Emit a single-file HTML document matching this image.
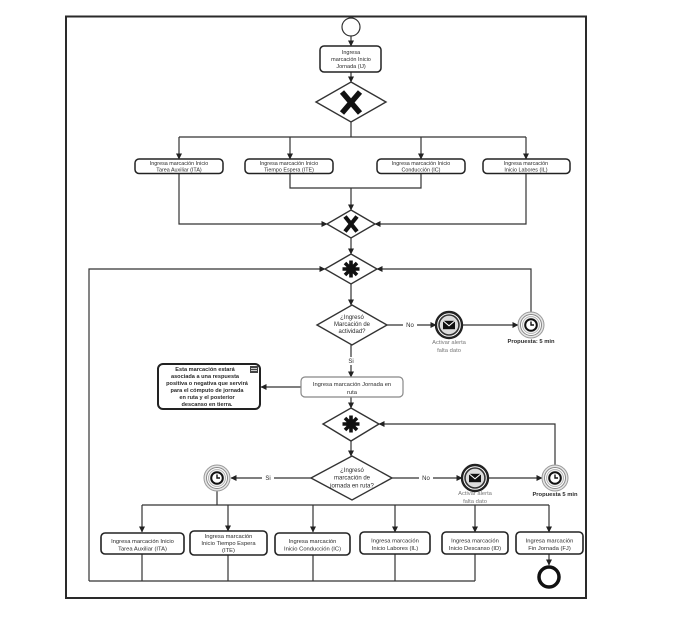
<!DOCTYPE html>
<html><head><meta charset="utf-8"><style>
html,body{margin:0;padding:0;background:#fff;}
svg{display:block;}
text{font-family:"Liberation Sans",sans-serif;fill:#2a2a2a;}
</style></head><body>
<svg width="698" height="617" viewBox="0 0 698 617" xmlns="http://www.w3.org/2000/svg">
<defs>
<marker id="a" markerWidth="6" markerHeight="6" refX="5.5" refY="3" orient="auto" markerUnits="userSpaceOnUse"><path d="M0,0 L6,3 L0,6 z" fill="#222"/></marker>
<g id="timer">
  <circle r="13" fill="#e6e6e6" stroke="#999" stroke-width="1"/>
  <circle r="10.5" fill="#fff" stroke="#888" stroke-width="1"/>
  <circle r="8.5" fill="#eee" stroke="#aaa" stroke-width="0.8"/>
  <circle r="5.8" fill="#fff" stroke="#111" stroke-width="2"/>
  <path d="M0,-3.5 L0,0 L3,0" fill="none" stroke="#111" stroke-width="1.4"/>
</g>
<g id="msg">
  <circle r="13" fill="#fff" stroke="#222" stroke-width="2.4"/>
  <circle r="10" fill="#ddd" stroke="#333" stroke-width="1.6"/>
  <rect x="-6" y="-4.2" width="12" height="8.4" fill="#111"/>
  <path d="M-6,-4.2 L0,0.8 L6,-4.2" fill="none" stroke="#fff" stroke-width="1"/>
</g>
<g id="star">
  <g stroke="#111" stroke-width="3.6" stroke-linecap="butt">
    <line x1="-8.5" y1="0" x2="8.5" y2="0"/>
    <line x1="0" y1="-8.5" x2="0" y2="8.5"/>
    <line x1="-6" y1="-6" x2="6" y2="6"/>
    <line x1="-6" y1="6" x2="6" y2="-6"/>
  </g>
  <circle r="5" fill="#111"/>
</g>
</defs>

<!-- frame -->
<rect x="66" y="16.5" width="520" height="581.5" fill="none" stroke="#2a2a2a" stroke-width="2"/>

<g fill="none" stroke="#333" stroke-width="1.2">
  <!-- start -->
  <line x1="351" y1="36" x2="351" y2="46" marker-end="url(#a)"/>
  <line x1="351" y1="72" x2="351" y2="82" marker-end="url(#a)"/>
  <polyline points="351,122 351,137"/>
  <polyline points="179,137 526,137"/>
  <line x1="179" y1="137" x2="179" y2="159" marker-end="url(#a)"/>
  <line x1="290" y1="137" x2="290" y2="159" marker-end="url(#a)"/>
  <line x1="421" y1="137" x2="421" y2="159" marker-end="url(#a)"/>
  <line x1="526" y1="137" x2="526" y2="159" marker-end="url(#a)"/>
  <!-- merge -->
  <polyline points="179,173 179,224 327,224" marker-end="url(#a)"/>
  <polyline points="526,173 526,224 375,224" marker-end="url(#a)"/>
  <polyline points="290,173 290,188 421,188 421,173"/>
  <line x1="351" y1="188" x2="351" y2="210" marker-end="url(#a)"/>
  <line x1="351" y1="237" x2="351" y2="254" marker-end="url(#a)"/>
  <!-- loops -->
  <polyline points="89,581 89,269 325,269" marker-end="url(#a)"/>
  <polyline points="531,312 531,269 377,269" marker-end="url(#a)"/>
  <line x1="351" y1="284" x2="351" y2="305" marker-end="url(#a)"/>
  <!-- decision 1 -->
  <line x1="387" y1="325" x2="436" y2="325" marker-end="url(#a)"/>
  <line x1="462" y1="325" x2="518" y2="325" marker-end="url(#a)"/>
  <line x1="351" y1="345" x2="351" y2="377" marker-end="url(#a)"/>
  <line x1="301" y1="387" x2="261" y2="387" marker-end="url(#a)"/>
  <line x1="351" y1="397" x2="351" y2="408" marker-end="url(#a)"/>
  <polyline points="555,465 555,424 379,424" marker-end="url(#a)"/>
  <line x1="351" y1="441" x2="351" y2="456" marker-end="url(#a)"/>
  <!-- decision 2 -->
  <line x1="311" y1="478" x2="231" y2="478" marker-end="url(#a)"/>
  <line x1="392" y1="478" x2="462" y2="478" marker-end="url(#a)"/>
  <line x1="488" y1="478" x2="542" y2="478" marker-end="url(#a)"/>
  <polyline points="217,491 217,505"/>
  <polyline points="142,505 549,505"/>
  <line x1="142" y1="505" x2="142" y2="532" marker-end="url(#a)"/>
  <line x1="228" y1="505" x2="228" y2="531" marker-end="url(#a)"/>
  <line x1="313" y1="505" x2="313" y2="532" marker-end="url(#a)"/>
  <line x1="395" y1="505" x2="395" y2="532" marker-end="url(#a)"/>
  <line x1="475" y1="505" x2="475" y2="532" marker-end="url(#a)"/>
  <line x1="549" y1="505" x2="549" y2="532" marker-end="url(#a)"/>
  <!-- bottom returns -->
  <polyline points="142,554 142,581"/>
  <polyline points="228,555 228,581"/>
  <polyline points="313,555 313,581"/>
  <polyline points="395,554 395,581"/>
  <polyline points="475,554 475,581"/>
  <polyline points="89,581 475,581"/>
  <line x1="549" y1="554" x2="549" y2="565" marker-end="url(#a)"/>
</g>

<!-- start event -->
<circle cx="351" cy="27" r="9" fill="#fff" stroke="#333" stroke-width="1.2"/>

<!-- IJ box -->
<rect x="320" y="46" width="61" height="26" rx="4" fill="#fff" stroke="#222" stroke-width="1.5"/>
<g font-size="5.5" text-anchor="middle">
<text x="351" y="54">Ingresa</text>
<text x="351" y="61">marcación Inicio</text>
<text x="351" y="68">Jornada (IJ)</text>
</g>

<!-- gateway X1 -->
<polygon points="351,82 386,102 351,122 316,102" fill="#fff" stroke="#333" stroke-width="1.4"/>
<g stroke="#111" stroke-width="5.5"><line x1="342" y1="92" x2="360" y2="113"/><line x1="360" y1="92" x2="342" y2="113"/></g>

<!-- top boxes -->
<g fill="#fff" stroke="#222" stroke-width="1.5">
<rect x="135" y="159" width="88" height="14.5" rx="4"/>
<rect x="245" y="159" width="88" height="14.5" rx="4"/>
<rect x="377" y="159" width="88" height="14.5" rx="4"/>
<rect x="483" y="159" width="87" height="14.5" rx="4"/>
</g>
<g font-size="5.4" text-anchor="middle">
<text x="179" y="165">Ingresa marcación Inicio</text><text x="179" y="171.5">Tarea Auxiliar (ITA)</text>
<text x="289" y="165">Ingresa marcación Inicio</text><text x="289" y="171.5">Tiempo Espera (ITE)</text>
<text x="421" y="165">Ingresa marcación Inicio</text><text x="421" y="171.5">Conducción (IC)</text>
<text x="526" y="165">Ingresa marcación</text><text x="526" y="171.5">Inicio Labores (IL)</text>
</g>

<!-- gateway X2 -->
<polygon points="351,210 375,224 351,238 327,224" fill="#fff" stroke="#333" stroke-width="1.4"/>
<g stroke="#111" stroke-width="4.2"><line x1="345" y1="216.5" x2="357" y2="231.5"/><line x1="357" y1="216.5" x2="345" y2="231.5"/></g>

<!-- star gateway 1 -->
<polygon points="351,254 377,269 351,284 325,269" fill="#fff" stroke="#333" stroke-width="1.4"/>
<use href="#star" x="351" y="269"/>

<!-- decision 1 -->
<polygon points="352,305 387,325 352,345 317,325" fill="#fff" stroke="#333" stroke-width="1.4"/>
<g font-size="6" text-anchor="middle">
<text x="352" y="319">¿Ingresó</text>
<text x="352" y="326">Marcación de</text>
<text x="352" y="333">actividad?</text>
</g>
<rect x="403" y="321" width="14" height="8" fill="#fff"/>
<text x="410" y="327" font-size="6" text-anchor="middle">No</text>
<rect x="346" y="357" width="11" height="8" fill="#fff"/>
<text x="351" y="363" font-size="6" text-anchor="middle">Si</text>

<use href="#msg" x="449" y="325"/>
<use href="#timer" x="531" y="325"/>
<g font-size="5.8" text-anchor="middle">
<text x="449" y="344" fill="#777" style="fill:#777">Activar alerta</text>
<text x="449" y="352" style="fill:#777">falta dato</text>
<text x="531" y="343" font-weight="bold">Propuesta: 5 min</text>
</g>

<!-- jornada en ruta box -->
<rect x="301" y="377" width="102" height="20" rx="4" fill="#fff" stroke="#888" stroke-width="1.2"/>
<g font-size="5.8" text-anchor="middle">
<text x="352" y="386">Ingresa marcación Jornada en</text>
<text x="352" y="394">ruta</text>
</g>

<!-- note -->
<rect x="158" y="364" width="102" height="45" rx="5" fill="#fff" stroke="#222" stroke-width="2"/>
<g font-size="5.6" text-anchor="middle" font-weight="bold">
<text x="205" y="371">Esta marcación estará</text>
<text x="205" y="378">asociada a una respuesta</text>
<text x="207" y="385">positiva o negativa que servirá</text>
<text x="207" y="392">para el cómputo de jornada</text>
<text x="207" y="399">en ruta y el posterior</text>
<text x="207" y="406">descanso en tierra.</text>
</g>
<g><rect x="250" y="366" width="8" height="7" fill="#444"/><rect x="251" y="368" width="6" height="1" fill="#ccc"/><rect x="251" y="370" width="6" height="1" fill="#ccc"/></g>

<!-- star gateway 2 -->
<polygon points="351,408 379,424 351,441 323,424" fill="#fff" stroke="#333" stroke-width="1.4"/>
<use href="#star" x="351" y="424"/>

<!-- decision 2 -->
<polygon points="352,456 392,478 352,500 311,478" fill="#fff" stroke="#333" stroke-width="1.4"/>
<g font-size="6" text-anchor="middle">
<text x="352" y="472">¿Ingresó</text>
<text x="352" y="479.5">marcación de</text>
<text x="352" y="487.5">jornada en ruta?</text>
</g>
<rect x="262" y="474" width="12" height="8" fill="#fff"/>
<text x="268" y="480" font-size="6" text-anchor="middle">Si</text>
<rect x="419" y="474" width="14" height="8" fill="#fff"/>
<text x="426" y="480" font-size="6" text-anchor="middle">No</text>

<use href="#timer" x="217" y="478"/>
<use href="#msg" x="475" y="478"/>
<use href="#timer" x="555" y="478"/>
<g font-size="5.8" text-anchor="middle">
<text x="475" y="495" style="fill:#777">Activar alerta</text>
<text x="475" y="503" style="fill:#777">falta dato</text>
<text x="555" y="496" font-weight="bold">Propuesta 5 min</text>
</g>

<!-- bottom boxes -->
<g fill="#fff" stroke="#222" stroke-width="1.6">
<rect x="101" y="533" width="83" height="21" rx="4"/>
<rect x="190" y="531" width="77" height="24" rx="4"/>
<rect x="275" y="533" width="75" height="22" rx="4"/>
<rect x="360" y="532" width="70" height="22" rx="4"/>
<rect x="442" y="532" width="66" height="22" rx="4"/>
<rect x="516" y="532" width="67" height="22" rx="4"/>
</g>
<g font-size="5.8" text-anchor="middle">
<text x="142.5" y="543">Ingresa marcación Inicio</text><text x="142.5" y="550.5">Tarea Auxiliar (ITA)</text>
<text x="228.5" y="538">Ingresa marcación</text><text x="228.5" y="545">Inicio Tiempo Espera</text><text x="228.5" y="552">(ITE)</text>
<text x="312.5" y="543">Ingresa marcación</text><text x="312.5" y="550.5">Inicio Conducción (IC)</text>
<text x="395" y="542.5">Ingresa marcación</text><text x="395" y="550">Inicio Labores (IL)</text>
<text x="475" y="542.5">Ingresa marcación</text><text x="475" y="550">Inicio Descanso (ID)</text>
<text x="549.5" y="542.5">Ingresa marcación</text><text x="549.5" y="550">Fin Jornada (FJ)</text>
</g>

<!-- end event -->
<circle cx="549" cy="577" r="10" fill="#fff" stroke="#111" stroke-width="3.5"/>
</svg>
</body></html>
